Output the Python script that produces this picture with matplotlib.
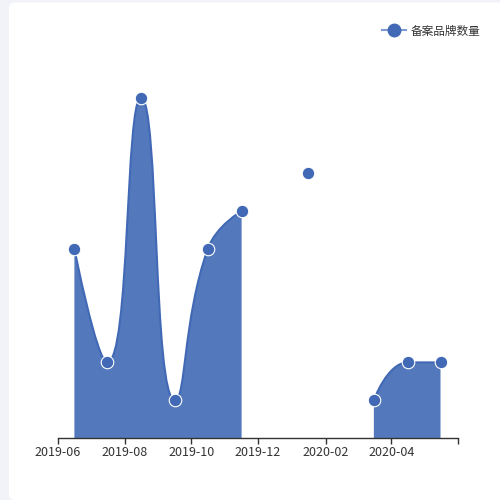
import datetime as dt
import matplotlib
matplotlib.use("Agg")
import matplotlib.pyplot as plt
import matplotlib.dates as mdates
from matplotlib.path import Path
from matplotlib.patches import PathPatch, FancyBboxPatch
from matplotlib.lines import Line2D
import numpy as np

plt.rcParams['font.family'] = ['Noto Sans CJK SC', 'DejaVu Sans']

# data: monthly brand counts (None = missing month)
months = ['2019-06-16', '2019-07-16', '2019-08-16', '2019-09-16', '2019-10-16',
          '2019-11-16', '2019-12-16', '2020-01-16', '2020-02-16', '2020-03-16',
          '2020-04-16', '2020-05-16']
counts = [5, 2, 9, 1, 5, 6, None, 7, None, 1, 2, 2]
series_name = '备案品牌数量'
tick_months = ['2019-06-01', '2019-08-01', '2019-10-01', '2019-12-01',
               '2020-02-01', '2020-04-01', '2020-06-01']
tick_labels = ['2019-06', '2019-08', '2019-10', '2019-12', '2020-02', '2020-04', '']

color = '#4169b5'
xmin = mdates.date2num(dt.date(2019, 6, 1))
xmax = mdates.date2num(dt.date(2020, 6, 1))
ymax = 10

fig = plt.figure(figsize=(5, 5), dpi=100)
fig.patch.set_facecolor('#f2f3f8')
fig.patches.append(FancyBboxPatch((0.018, 0.0), 1.2, 0.995,
                                  boxstyle='round,pad=0,rounding_size=0.012',
                                  transform=fig.transFigure, facecolor='white',
                                  edgecolor='none', zorder=-5))

ax = fig.add_axes([0.116, 0.124, 0.8, 0.756])
ax.set_facecolor('none')
ax.set_xlim(xmin, xmax)
ax.set_ylim(0, ymax)

xs = np.array([mdates.date2num(dt.date.fromisoformat(m)) for m in months])

# pixel scale so the smoothing works like echarts (screen space)
sx = 400.0 / (xmax - xmin)
sy = 378.0 / ymax


def smooth_segment(px, py, smooth=0.5):
    verts = [(px[0], py[0])]
    codes = [Path.MOVETO]
    cpx0, cpy0 = px[0], py[0]
    n = len(px)
    for k in range(1, n):
        x, y = px[k], py[k]
        prevX, prevY = px[k - 1], py[k - 1]
        if k == n - 1:
            cpx1, cpy1 = x, y
            ncpx0, ncpy0 = x, y
        else:
            nextX, nextY = px[k + 1], py[k + 1]
            vx, vy = nextX - prevX, nextY - prevY
            lp = np.hypot(x - prevX, y - prevY)
            ln = np.hypot(nextX - x, nextY - y)
            r = ln / (ln + lp)
            ncpx0 = x + vx * smooth * r
            ncpy0 = y + vy * smooth * r
            ncpx0 = max(min(ncpx0, max(nextX, x)), min(nextX, x))
            ncpy0 = max(min(ncpy0, max(nextY, y)), min(nextY, y))
            vx, vy = ncpx0 - x, ncpy0 - y
            cpx1 = x - vx * lp / ln
            cpy1 = y - vy * lp / ln
            cpx1 = max(min(cpx1, max(prevX, x)), min(prevX, x))
            cpy1 = max(min(cpy1, max(prevY, y)), min(prevY, y))
            vx, vy = x - cpx1, y - cpy1
            ncpx0 = x + vx * ln / lp
            ncpy0 = y + vy * ln / lp
        verts += [(cpx0, cpy0), (cpx1, cpy1), (x, y)]
        codes += [Path.CURVE4] * 3
        cpx0, cpy0 = ncpx0, ncpy0
    return verts, codes


# split into runs of non-missing values
runs = []
cur = []
for x, c in zip(xs, counts):
    if c is None:
        if cur:
            runs.append(cur)
        cur = []
    else:
        cur.append((x, c))
if cur:
    runs.append(cur)

for run in runs:
    if len(run) < 2:
        continue
    rx = np.array([p[0] for p in run])
    ry = np.array([p[1] for p in run], dtype=float)
    v, c = smooth_segment(rx * sx, ry * sy)
    v = [(a / sx, b / sy) for a, b in v]
    line_path = Path(v, c)
    fill_v = v + [(rx[-1], 0), (rx[0], 0), v[0]]
    fill_c = c + [Path.LINETO, Path.LINETO, Path.CLOSEPOLY]
    ax.add_patch(PathPatch(Path(fill_v, fill_c), facecolor=color, alpha=0.9,
                           edgecolor='none', zorder=2))
    ax.add_patch(PathPatch(line_path, facecolor='none', edgecolor=color,
                           lw=1.5, zorder=3))

vals = [np.nan if c is None else c for c in counts]
ax.plot(xs, vals, linestyle='none', marker='o', markersize=9,
        markerfacecolor=color, markeredgecolor='white', markeredgewidth=0.8,
        zorder=4, clip_on=False)

for s in ['top', 'right', 'left']:
    ax.spines[s].set_visible(False)
ax.spines['bottom'].set_color('#333333')
ax.spines['bottom'].set_linewidth(1)
ax.set_yticks([])
ax.set_xticks([mdates.date2num(dt.date.fromisoformat(t)) for t in tick_months])
ax.set_xticklabels(tick_labels)
ax.tick_params(axis='x', direction='out', length=4, width=1, color='#333333',
               labelsize=9, labelcolor='#333333', pad=1.5)

handle = Line2D([], [], color='#7f9bd2', lw=1.5, marker='o', markersize=9,
                markerfacecolor=color, markeredgecolor=color)
fig.legend(handles=[handle], labels=[series_name], loc='center right',
           bbox_to_anchor=(0.982, 0.938), frameon=False, fontsize=8.4,
           handlelength=2.1, handletextpad=0.4, labelcolor='#333333')

fig.savefig('out.png', dpi=100, facecolor=fig.get_facecolor())
